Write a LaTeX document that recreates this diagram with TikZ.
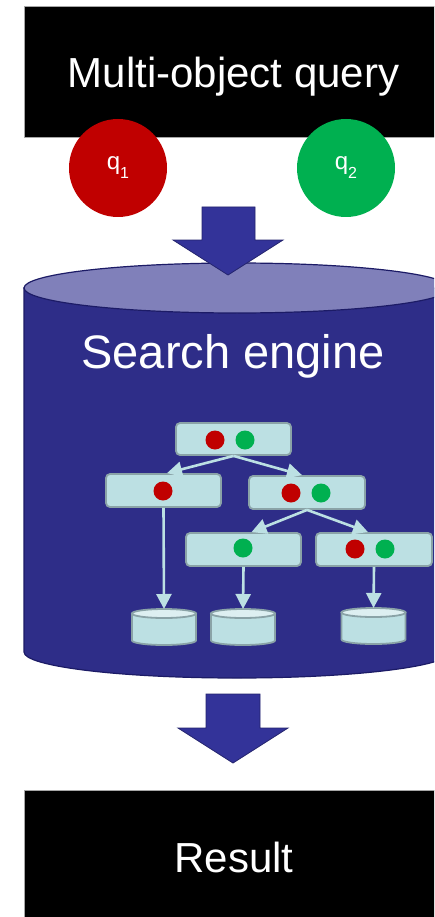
\documentclass[tikz,border=0pt]{standalone}
\usepackage{fontspec}
\setmainfont{Liberation Sans}
\usetikzlibrary{arrows.meta}

\definecolor{qred}{HTML}{C00000}
\definecolor{qgreen}{HTML}{00B050}
\definecolor{engbody}{HTML}{2E2D88}
\definecolor{engtop}{HTML}{8080BA}
\definecolor{engline}{HTML}{1C1B66}
\definecolor{blockfill}{HTML}{333399}
\definecolor{blockline}{HTML}{24246E}
\definecolor{treefill}{HTML}{BCE0E3}
\definecolor{treeline}{HTML}{8AA3A7}
\definecolor{drumtop}{HTML}{DDEFF1}

\tikzset{
  blackbox/.style={rectangle, fill=black, draw=black!35, line width=0.8pt, inner sep=0pt},
  bigtext/.style={text=white, inner sep=0pt, font=\fontsize{42}{50}\selectfont},
  qball/.style={circle, minimum size=98pt, inner sep=0pt, text=white,
                font=\fontsize{24}{28}\selectfont},
  blockarrow/.style={fill=blockfill, draw=blockline, line width=0.8pt, line join=miter},
  tbox/.style={rectangle, rounded corners=4pt, fill=treefill, draw=treeline,
               line width=1.8pt, inner sep=0pt},
  dot/.style={circle, minimum size=19pt, inner sep=0pt},
  treearrow/.style={draw=treefill, line width=2.6pt,
                    -{Triangle[length=15pt,width=15pt,fill=treefill]}},
  drum/.pic={
    \filldraw[fill=treefill, draw=treeline, line width=1.8pt]
      (-32,0) -- (-32,27) arc[start angle=180, end angle=0, x radius=32, y radius=4.5]
      -- (32,0) -- cycle;
    \filldraw[fill=drumtop, draw=treeline, line width=1.8pt]
      (0,0) ellipse[x radius=32, y radius=4.5];
  }
}

\begin{document}
\begin{tikzpicture}[x=1pt, y=-1pt]
\useasboundingbox (0,0) rectangle (434,917);
\fill[white] (0,0) rectangle (434,917);
\clip (0,0) rectangle (434,917);

% query banner
\node[blackbox, minimum width=419pt, minimum height=131pt] (querybox) at (233.5,71.5) {};
\node[bigtext, anchor=base] (querytext) at (233.5,88) {Multi-object query};

% query objects
\node[qball, fill=qred] (q1) at (118,168)
  {q\raisebox{-9pt}{\fontsize{16}{16}\selectfont 1}};
\node[qball, fill=qgreen] (q2) at (346,168)
  {q\raisebox{-9pt}{\fontsize{16}{16}\selectfont 2}};

% search engine drum
\filldraw[fill=engbody, draw=engline, line width=1.2pt]
  (24,288) -- (24,652) arc[start angle=180, end angle=0, x radius=213, y radius=26]
  -- (450,288) -- cycle;
\filldraw[fill=engtop, draw=engline, line width=1.2pt]
  (237,288) ellipse[x radius=213, y radius=25];
\node[bigtext, anchor=base, font=\fontsize{47}{56}\selectfont] (engine) at (233,368) {Search engine};

% arrow into the engine
\path[blockarrow] (202,207) -- (255,207) -- (255,240) -- (283,240) -- (228,275)
  -- (173,240) -- (202,240) -- cycle;

% index tree
\node[tbox, minimum width=115pt, minimum height=32pt] (root) at (233.5,439) {};
\node[dot, fill=qred]   (rootr) at (215,440) {};
\node[dot, fill=qgreen] (rootg) at (245,440) {};

\node[tbox, minimum width=115pt, minimum height=33pt] (lc) at (163.5,490.5) {};
\node[dot, fill=qred] (lcr) at (163,491) {};

\node[tbox, minimum width=116pt, minimum height=33pt] (rc) at (307,492.5) {};
\node[dot, fill=qred]   (rcr) at (291,493) {};
\node[dot, fill=qgreen] (rcg) at (321,493) {};

\node[tbox, minimum width=115pt, minimum height=33pt] (la) at (243.5,549.5) {};
\node[dot, fill=qgreen] (lag) at (243,548) {};

\node[tbox, minimum width=116pt, minimum height=33pt] (lb) at (374,549.5) {};
\node[dot, fill=qred]   (lbr) at (355,549) {};
\node[dot, fill=qgreen] (lbg) at (385,549) {};

% storage drums
\pic at (164,613.5) {drum};
\pic at (243,613.5) {drum};
\pic at (373.5,612.5) {drum};
\coordinate (d1) at (164,609);
\coordinate (d2) at (243,609);
\coordinate (d3) at (373.5,608);

\draw[treearrow] (root.south) -- ([xshift=3.5pt]lc.north);
\draw[treearrow] (root.south) -- ([xshift=-5pt]rc.north);
\draw[treearrow] (rc.south) -- ([xshift=8pt]la.north);
\draw[treearrow] (rc.south) -- ([xshift=-6pt]lb.north);
\draw[treearrow] (lc.south) -- (d1);
\draw[treearrow] (la.south) -- (d2);
\draw[treearrow] (lb.south) -- (d3);

% arrow out of the engine
\path[blockarrow] (206,694) -- (260,694) -- (260,728) -- (288,728) -- (233,763)
  -- (178,728) -- (206,728) -- cycle;

% result banner
\node[blackbox, minimum width=420pt, minimum height=140pt, anchor=north west] (resultbox) at (24,790) {};
\node[bigtext, anchor=base] (resulttext) at (234,872) {Result};
\end{tikzpicture}
\end{document}
